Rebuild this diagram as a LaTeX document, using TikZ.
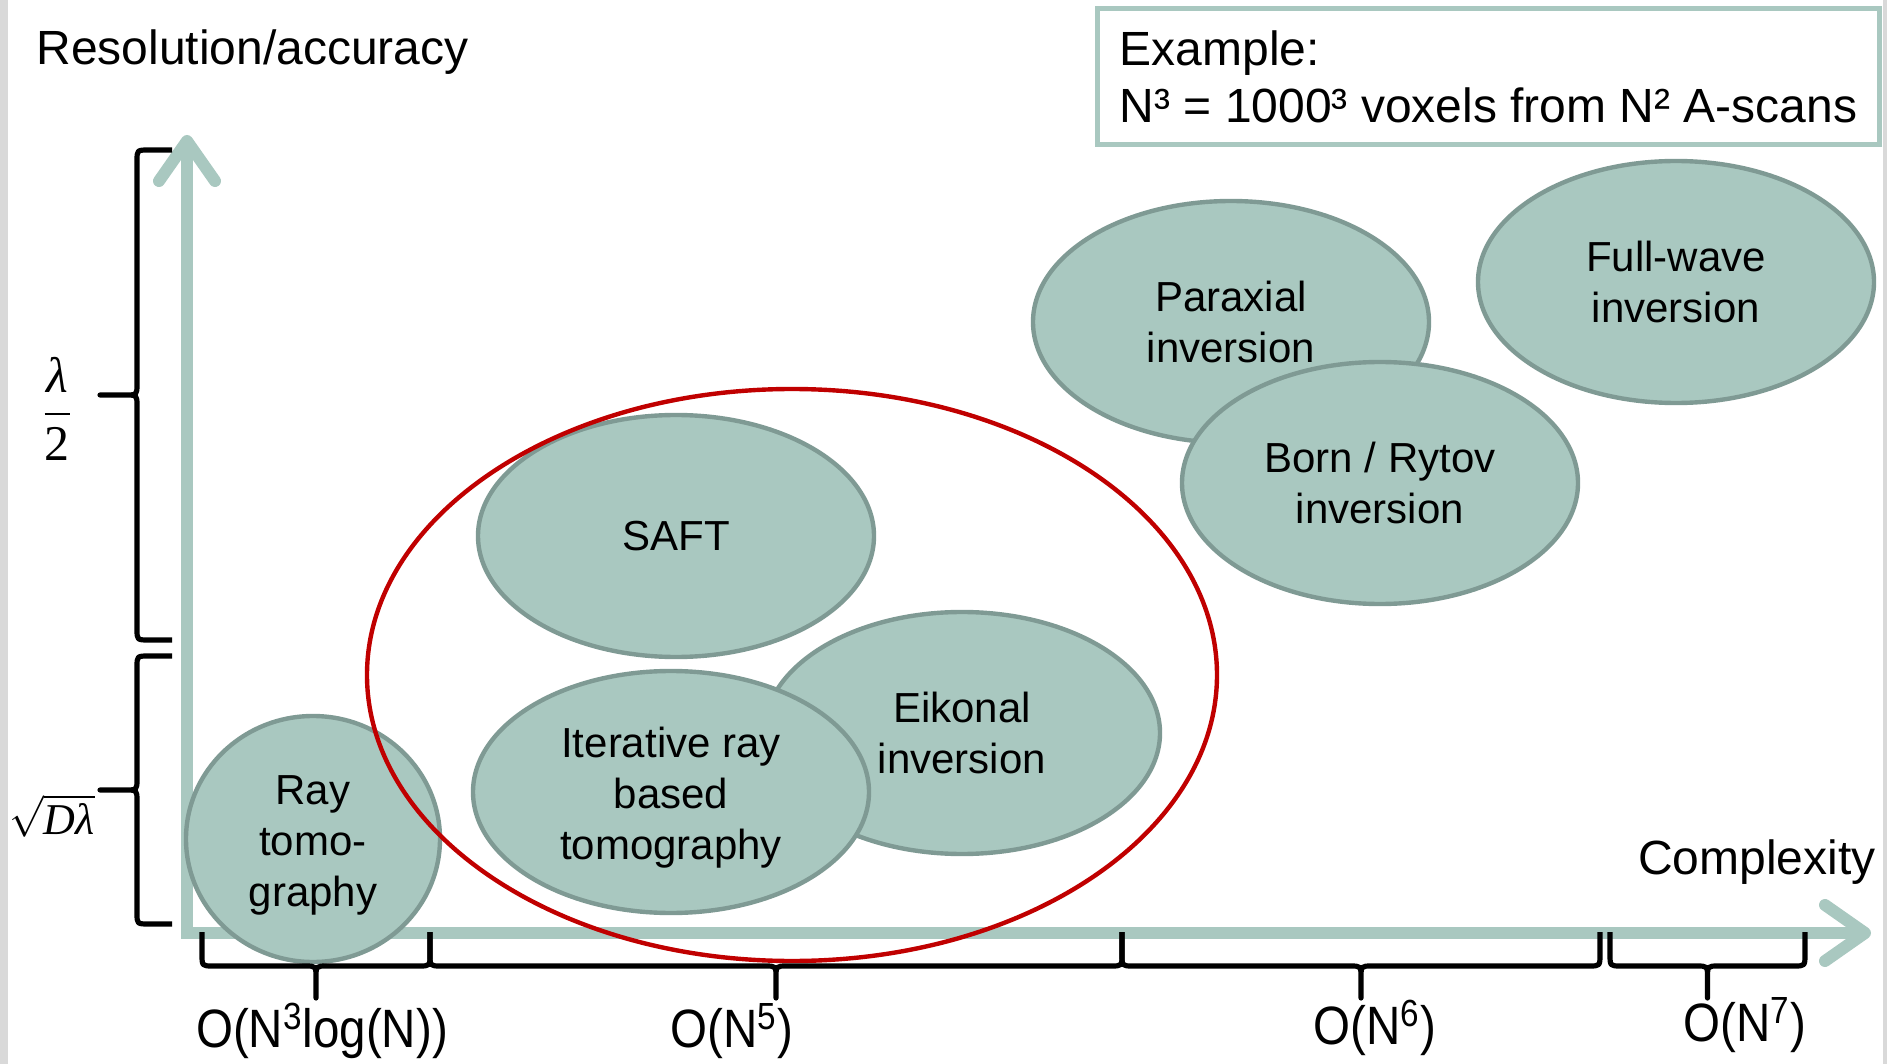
\documentclass[tikz,border=0pt]{standalone}
\usepackage{amsmath}
\usepackage{fontspec}
\setmainfont{Liberation Sans}
\newfontfamily\narrowfont{Liberation Sans}[FakeStretch=0.88]
\newfontfamily\greekserif{Liberation Serif}
\usetikzlibrary{arrows.meta,shapes.geometric}
\definecolor{sage}{HTML}{A9C8C0}
\definecolor{sagedark}{HTML}{7F9A94}
\definecolor{marker}{HTML}{C00000}
% square brace under the complexity axis, from #1 to #2
\newcommand{\hbrace}[2]{%
  \pgfmathsetmacro\bmid{(#1+#2)/2}
  \draw[bracket] (#1,932) -- (#1,954) .. controls (#1,966) .. ({#1+11},966)
    -- ({\bmid-11},966) .. controls (\bmid,966) .. (\bmid,978) -- (\bmid,998)
    -- (\bmid,978) .. controls (\bmid,966) .. ({\bmid+11},966)
    -- ({#2-11},966) .. controls (#2,966) .. (#2,954) -- (#2,932);}
% square brace left of the resolution axis, from #1 to #2
\newcommand{\vbrace}[2]{%
  \pgfmathsetmacro\bmid{(#1+#2)/2}
  \draw[bracket] (172,#1) -- (149,#1) .. controls (137,#1) .. (137,{#1+11})
    -- (137,{\bmid-11}) .. controls (137,\bmid) .. (125,\bmid) -- (100,\bmid)
    -- (125,\bmid) .. controls (137,\bmid) .. (137,{\bmid+11})
    -- (137,{#2-11}) .. controls (137,#2) .. (149,#2) -- (172,#2);}

\begin{document}
\begin{tikzpicture}[x=0.5pt,y=-0.5pt,
  method/.style={ellipse,draw=sagedark,line width=2.2pt,fill=sage,inner sep=0pt,
    minimum width=198pt,minimum height=121pt,align=center,
    font=\fontsize{21}{25.5}\selectfont},
  axis/.style={sage,line width=6pt},
  bracket/.style={line width=2.6pt,line join=round},
  order/.style={font=\narrowfont\fontsize{27}{30}\selectfont},
  big/.style={font=\fontsize{24}{28.5}\selectfont}]
\useasboundingbox (0,0) rectangle (1887,1064);
\fill[black!15] (0,0) rectangle (8,1064);
\fill[black!15] (1883,0) rectangle (1887,1064);
% axes
\coordinate (ytop) at (187,135);
\coordinate (origin) at (187,933);
\coordinate (xend) at (1871,933);
\draw[axis,{Straight Barb[length=20pt,width=28pt,round]}-{Straight Barb[length=20pt,width=28pt,round]}]
  (ytop) -- (origin) -- (xend);
\node[big,anchor=west,inner sep=0pt] (ylabel) at (36,52) {Resolution/accuracy};
\node[big,anchor=east,inner sep=0pt] (xlabel) at (1876,862) {Complexity};
% methods
\node[method,minimum width=127pt,minimum height=123pt,text height=72pt] (ray) at (313,839) {Ray\\tomo-\\graphy};
\node[method] (saft) at (676,536) {SAFT};
\node[method] (eikonal) at (962,733) {Eikonal\\inversion};
\node[method,text height=72pt] (iterative) at (671,792) {Iterative ray\\based\\tomography};
\node[method] (paraxial) at (1231,322) {Paraxial\\inversion};
\node[method] (born) at (1380,483) {Born / Rytov\\inversion};
\node[method] (fullwave) at (1676,282) {Full-wave\\inversion};
\draw[marker,line width=2.2pt] (792,675) ellipse [x radius=212.5pt,y radius=143pt];
% resolution ranges
\vbrace{150}{640}
\vbrace{656}{924}
\node (half) at (57,409) {\fontsize{25}{29}\selectfont$\dfrac{\text{\greekserif\itshape λ}}{\text{\greekserif 2}}$};
\node (fresnel) at (52,816) {\fontsize{22}{26}\selectfont$\sqrt{\text{\greekserif\itshape Dλ}}$};
% complexity ranges
\hbrace{202}{430}
\hbrace{430}{1122}
\hbrace{1122}{1600}
\hbrace{1610}{1805}
\node[order] (o3) at (322,1031) {O(N\textsuperscript{3}log(N))};
\node[order] (o5) at (732,1031) {O(N\textsuperscript{5})};
\node[order] (o6) at (1375,1028) {O(N\textsuperscript{6})};
\node[order] (o7) at (1745,1025) {O(N\textsuperscript{7})};
% example
\node[big,draw=sage,line width=2.5pt,anchor=north west,align=left,inner xsep=11pt,
  minimum width=391pt,minimum height=68pt] (example) at (1095,6)
  {Example:\\N³ = 1000³ voxels from N² A-scans};
\end{tikzpicture}
\end{document}
